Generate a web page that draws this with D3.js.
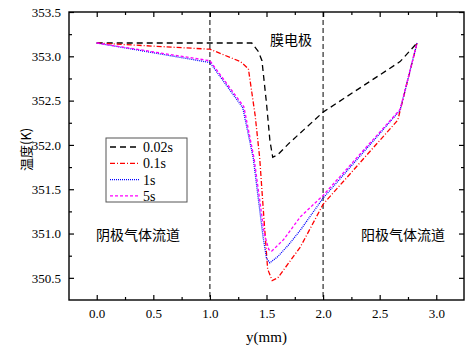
<!DOCTYPE html>
<html>
<head>
<meta charset="utf-8">
<script src="https://cdn.jsdelivr.net/npm/d3@7"></script>
<style>
  body { margin: 0; background: #fff; }
</style>
</head>
<body>
<div id="chart"></div>
<script>
//define Margins
let margin = {top: 12, right: 3, bottom: 48, left: 69},
    width = 467 - margin.left - margin.right,
    height = 348 - margin.top - margin.bottom;

let serif = "Liberation Serif";
let cjk = "Noto Sans CJK SC";

// series data (y position in mm, temperature in K)
let labels = ["0.02s", "0.1s", "1s", "5s"];
let x002 = [0, 1.0, 1.37, 1.43, 1.46, 1.50, 1.53, 1.555, 1.6, 1.7, 2.0, 2.68, 2.83];
let t002 = [353.15, 353.15, 353.15, 353.05, 352.95, 352.47, 352.05, 351.86, 351.89, 352.02, 352.37, 352.94, 353.15];
let x01 = [0, 1.0, 1.27, 1.34, 1.40, 1.44, 1.47, 1.51, 1.55, 1.6, 1.8, 2.0, 2.66, 2.83];
let t01 = [353.15, 353.08, 352.94, 352.86, 352.33, 351.85, 351.3, 350.6, 350.47, 350.5, 350.85, 351.33, 352.28, 353.15];
let x1 = [0, 1.0, 1.29, 1.383, 1.47, 1.5, 1.53, 1.6, 1.7, 1.8, 2.0, 2.68, 2.83];
let t1 = [353.15, 352.93, 352.42, 351.85, 350.96, 350.72, 350.67, 350.74, 350.88, 351.04, 351.4, 352.39, 353.15];
let x5 = [0, 1.0, 1.3, 1.39, 1.48, 1.52, 1.545, 1.65, 1.8, 2.0, 2.68, 2.83];
let t5 = [353.15, 352.95, 352.43, 351.85, 351.0, 350.82, 350.8, 350.93, 351.19, 351.43, 352.4, 353.15];

let xTicks = [0.0, 0.5, 1.0, 1.5, 2.0, 2.5, 3.0];
let yTicks = [350.5, 351.0, 351.5, 352.0, 352.5, 353.0, 353.5];
let xMinor = [0.25, 0.75, 1.25, 1.75, 2.25, 2.75];
let yMinor = [350.75, 351.25, 351.75, 352.25, 352.75, 353.25];
let regionLines = [1.0, 2.0];

let series = [
    {name: labels[0], xs: x002, ts: t002, color: "#000000", dash: "6,4"},
    {name: labels[1], xs: x01, ts: t01, color: "#ff0000", dash: "5,2,1,2"},
    {name: labels[2], xs: x1, ts: t1, color: "#0000ff", dash: "1,1"},
    {name: labels[3], xs: x5, ts: t5, color: "#ff00ff", dash: "3,2"}
];

let svg = d3.select("#chart")
    .append("svg")
    .attr("width", width + margin.left + margin.right)
    .attr("height", height + margin.top + margin.bottom)
    .append("g")
    .attr("transform", "translate(" + margin.left + "," + margin.top + ")");

let xScale = d3.scaleLinear().domain([-0.245, 3.245]).range([0, width]);
let yScale = d3.scaleLinear().domain([350.25, 353.5]).range([height, 0]);

// vertical region lines
svg.selectAll("line.region")
    .data(regionLines)
    .enter()
    .append("line")
    .attr("class", "region")
    .attr("x1", d => xScale(d)).attr("x2", d => xScale(d))
    .attr("y1", 0).attr("y2", height)
    .attr("stroke", "#000")
    .attr("stroke-width", 1)
    .attr("stroke-dasharray", "5,3");

// curves
let line = d3.line()
    .x(d => xScale(d[0]))
    .y(d => yScale(d[1]));

svg.selectAll("path.curve")
    .data(series)
    .enter()
    .append("path")
    .attr("class", "curve")
    .attr("fill", "none")
    .attr("stroke", d => d.color)
    .attr("stroke-width", 1.3)
    .attr("stroke-dasharray", d => d.dash)
    .attr("d", d => line(d.xs.map((x, i) => [x, d.ts[i]])));

// axes, ticks pointing inwards on all four sides
svg.append("g")
    .attr("transform", "translate(0," + height + ")")
    .call(d3.axisBottom(xScale).tickValues(xTicks).tickFormat(d3.format(".1f")).tickSizeInner(-5).tickSizeOuter(0).tickPadding(9));
svg.append("g")
    .attr("transform", "translate(0," + height + ")")
    .call(d3.axisBottom(xScale).tickValues(xMinor).tickFormat("").tickSizeInner(-3).tickSizeOuter(0));
svg.append("g")
    .call(d3.axisTop(xScale).tickValues(xTicks).tickFormat("").tickSizeInner(-5).tickSizeOuter(0));
svg.append("g")
    .call(d3.axisTop(xScale).tickValues(xMinor).tickFormat("").tickSizeInner(-3).tickSizeOuter(0));

svg.append("g")
    .call(d3.axisLeft(yScale).tickValues(yTicks).tickFormat(d3.format(".1f")).tickSizeInner(-5).tickSizeOuter(0).tickPadding(8));
svg.append("g")
    .call(d3.axisLeft(yScale).tickValues(yMinor).tickFormat("").tickSizeInner(-3).tickSizeOuter(0));
svg.append("g")
    .attr("transform", "translate(" + width + ",0)")
    .call(d3.axisRight(yScale).tickValues(yTicks).tickFormat("").tickSizeInner(-5).tickSizeOuter(0));
svg.append("g")
    .attr("transform", "translate(" + width + ",0)")
    .call(d3.axisRight(yScale).tickValues(yMinor).tickFormat("").tickSizeInner(-3).tickSizeOuter(0));

// d3 puts sans-serif on the axis groups, swap it for a Times-like face
svg.selectAll("g")
    .attr("font-family", serif)
    .attr("font-size", 13);
svg.selectAll(".tick text")
    .attr("font-family", serif)
    .attr("font-size", 13)
    .attr("fill", "#000");
svg.selectAll(".domain").remove();
svg.selectAll(".tick line").attr("stroke", "#000").attr("stroke-width", 1.2);

// frame
svg.append("rect")
    .attr("width", width)
    .attr("height", height)
    .attr("fill", "none")
    .attr("stroke", "#000")
    .attr("stroke-width", 1.4);

// axis labels
svg.append("text")
    .attr("x", xScale(1.5))
    .attr("y", height + 42)
    .attr("text-anchor", "middle")
    .attr("font-family", serif)
    .attr("font-size", 15)
    .text("y(mm)");
svg.append("text")
    .attr("transform", "translate(" + (-43) + "," + (yScale(351.95)) + ") rotate(-90)")
    .attr("text-anchor", "middle")
    .attr("dy", "0.35em")
    .attr("font-family", cjk)
    .attr("font-size", 13)
    .text("温度(K)");

// region labels
svg.append("text")
    .attr("x", 201).attr("y", 33)
    .attr("font-family", cjk)
    .attr("font-size", 14).text("膜电极");
svg.append("text")
    .attr("x", 27).attr("y", 228)
    .attr("font-family", cjk)
    .attr("font-size", 14).text("阴极气体流道");
svg.append("text")
    .attr("x", 292).attr("y", 228)
    .attr("font-family", cjk)
    .attr("font-size", 14).text("阳极气体流道");

// legend
let legend = svg.append("g").attr("transform", "translate(" + (106 - margin.left) + "," + (138 - margin.top) + ")");
legend.append("rect")
    .attr("width", 81).attr("height", 64)
    .attr("fill", "#fff")
    .attr("stroke", "#555")
    .attr("stroke-width", 1);
let items = legend.selectAll("g.item")
    .data(series)
    .enter()
    .append("g")
    .attr("class", "item")
    .attr("transform", (d, i) => "translate(0," + (9 + i * 16.3) + ")");
items.append("line")
    .attr("x1", 4).attr("x2", 33)
    .attr("stroke", d => d.color)
    .attr("stroke-width", 1.3)
    .attr("stroke-dasharray", d => d.dash);
items.append("text")
    .attr("x", 37).attr("dy", "0.35em")
    .attr("font-family", serif)
    .attr("font-size", 14)
    .text(d => d.name);
</script>
</body>
</html>
